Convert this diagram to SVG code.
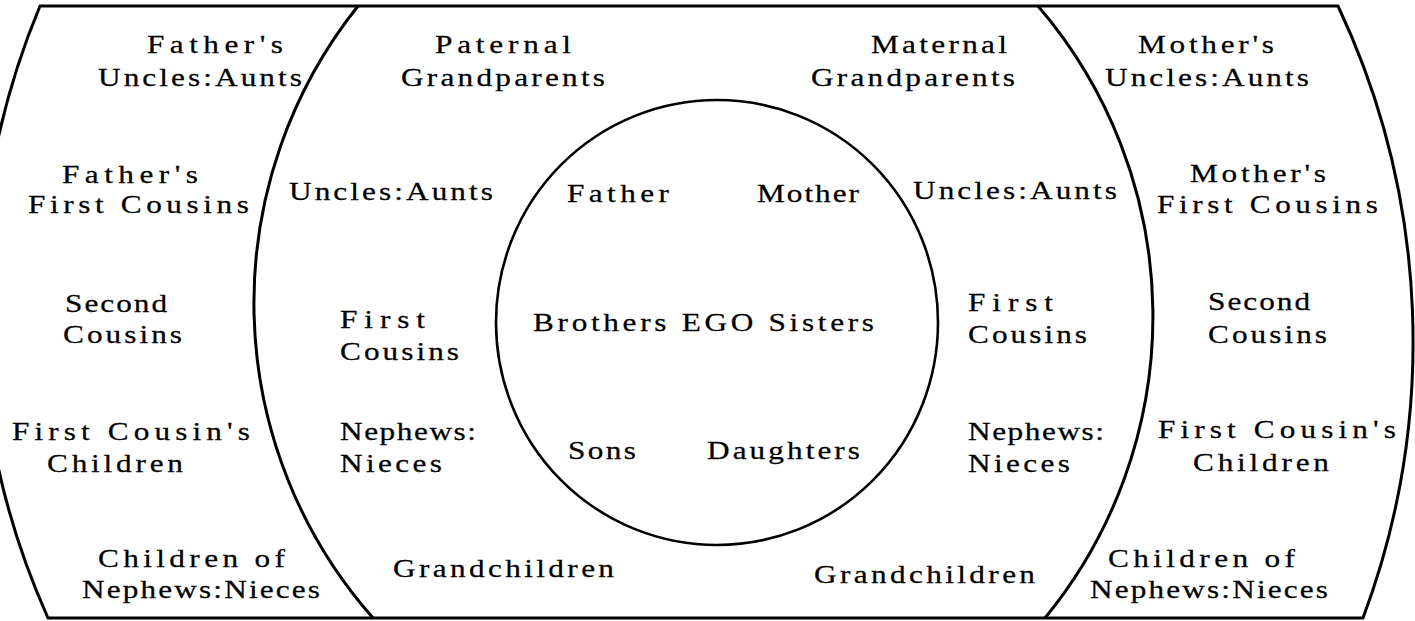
<svg xmlns="http://www.w3.org/2000/svg" width="1415" height="621" viewBox="0 0 1415 621">
<style>
  .ln { fill: none; stroke: #000; stroke-width: 3; stroke-linejoin: round; }
  .c { fill: none; stroke: #000; stroke-width: 2.6; }
  text { font-family: "Liberation Serif", "Times New Roman", serif; font-size: 25px; fill: #000; stroke: #000; stroke-width: 0.25; }
</style>
<rect width="1415" height="621" fill="#fff"/>
<g id="shapes">
  <path id="outer-outline" class="ln" d="M40,6 L1338,6 A788,788 0 0 1 1363,618 L48,618 A771,771 0 0 1 40,6 Z"/>
  <path id="left-inner-arc" class="ln" d="M358,6 A476,476 0 0 0 373,618"/>
  <path id="right-inner-arc" class="ln" d="M1038,6 A476,476 0 0 1 1045,618"/>
  <ellipse id="ego-circle" class="c" cx="717" cy="322.5" rx="221" ry="222.5"/>
</g>
<g id="connectors"></g>
<g id="left-outer">
  <g id="fathers-uncles-aunts"><text transform="translate(147 53) scale(1.25 1)" textLength="108.8" lengthAdjust="spacing">Father's</text><text transform="translate(98 86) scale(1.25 1)" textLength="163.2" lengthAdjust="spacing">Uncles:Aunts</text></g>
  <g id="fathers-first-cousins"><text transform="translate(62 183) scale(1.25 1)" textLength="108.8" lengthAdjust="spacing">Father's</text><text transform="translate(28 213) scale(1.25 1)" textLength="176.8" lengthAdjust="spacing">First Cousins</text></g>
  <g id="second-cousins-left"><text transform="translate(65 312) scale(1.25 1)" textLength="81.6" lengthAdjust="spacing">Second</text><text transform="translate(63 343) scale(1.25 1)" textLength="95.2" lengthAdjust="spacing">Cousins</text></g>
  <g id="first-cousins-children-left"><text transform="translate(12 440) scale(1.25 1)" textLength="190.4" lengthAdjust="spacing">First Cousin's</text><text transform="translate(47 472) scale(1.25 1)" textLength="108.8" lengthAdjust="spacing">Children</text></g>
  <g id="children-of-nephews-left"><text transform="translate(98 567) scale(1.25 1)" textLength="149.6" lengthAdjust="spacing">Children of</text><text transform="translate(82 598) scale(1.25 1)" textLength="190.4" lengthAdjust="spacing">Nephews:Nieces</text></g>
</g>
<g id="middle-left">
  <g id="paternal-grandparents"><text transform="translate(435 53) scale(1.25 1)" textLength="108.8" lengthAdjust="spacing">Paternal</text><text transform="translate(401 86) scale(1.25 1)" textLength="163.2" lengthAdjust="spacing">Grandparents</text></g>
  <g id="uncles-aunts-left"><text transform="translate(289 200) scale(1.25 1)" textLength="163.2" lengthAdjust="spacing">Uncles:Aunts</text></g>
  <g id="first-cousins-left"><text transform="translate(340 328) scale(1.25 1)" textLength="68" lengthAdjust="spacing">First</text><text transform="translate(340 360) scale(1.25 1)" textLength="95.2" lengthAdjust="spacing">Cousins</text></g>
  <g id="nephews-nieces-left"><text transform="translate(340 440) scale(1.25 1)" textLength="108.8" lengthAdjust="spacing">Nephews:</text><text transform="translate(340 472) scale(1.25 1)" textLength="81.6" lengthAdjust="spacing">Nieces</text></g>
  <g id="grandchildren-left"><text transform="translate(393 577) scale(1.25 1)" textLength="176.8" lengthAdjust="spacing">Grandchildren</text></g>
</g>
<g id="ego-circle-labels">
  <g id="father"><text transform="translate(567 202) scale(1.25 1)" textLength="81.6" lengthAdjust="spacing">Father</text></g>
  <g id="mother"><text transform="translate(757 202) scale(1.25 1)" textLength="81.6" lengthAdjust="spacing">Mother</text></g>
  <g id="ego"><text transform="translate(533 331) scale(1.25 1)" textLength="272.8" lengthAdjust="spacing">Brothers EGO Sisters</text></g>
  <g id="sons"><text transform="translate(568 459) scale(1.25 1)" textLength="54.4" lengthAdjust="spacing">Sons</text></g>
  <g id="daughters"><text transform="translate(707 459) scale(1.25 1)" textLength="122.4" lengthAdjust="spacing">Daughters</text></g>
</g>
<g id="middle-right">
  <g id="maternal-grandparents"><text transform="translate(871 53) scale(1.25 1)" textLength="108.8" lengthAdjust="spacing">Maternal</text><text transform="translate(811 86) scale(1.25 1)" textLength="163.2" lengthAdjust="spacing">Grandparents</text></g>
  <g id="uncles-aunts-right"><text transform="translate(913 199) scale(1.25 1)" textLength="163.2" lengthAdjust="spacing">Uncles:Aunts</text></g>
  <g id="first-cousins-right"><text transform="translate(968 311) scale(1.25 1)" textLength="68" lengthAdjust="spacing">First</text><text transform="translate(968 343) scale(1.25 1)" textLength="95.2" lengthAdjust="spacing">Cousins</text></g>
  <g id="nephews-nieces-right"><text transform="translate(968 440) scale(1.25 1)" textLength="108.8" lengthAdjust="spacing">Nephews:</text><text transform="translate(968 472) scale(1.25 1)" textLength="81.6" lengthAdjust="spacing">Nieces</text></g>
  <g id="grandchildren-right"><text transform="translate(814 583) scale(1.25 1)" textLength="176.8" lengthAdjust="spacing">Grandchildren</text></g>
</g>
<g id="right-outer">
  <g id="mothers-uncles-aunts"><text transform="translate(1138 53) scale(1.25 1)" textLength="108.8" lengthAdjust="spacing">Mother's</text><text transform="translate(1105 86) scale(1.25 1)" textLength="163.2" lengthAdjust="spacing">Uncles:Aunts</text></g>
  <g id="mothers-first-cousins"><text transform="translate(1190 182) scale(1.25 1)" textLength="108.8" lengthAdjust="spacing">Mother's</text><text transform="translate(1157 213) scale(1.25 1)" textLength="176.8" lengthAdjust="spacing">First Cousins</text></g>
  <g id="second-cousins-right"><text transform="translate(1208 310) scale(1.25 1)" textLength="81.6" lengthAdjust="spacing">Second</text><text transform="translate(1208 343) scale(1.25 1)" textLength="95.2" lengthAdjust="spacing">Cousins</text></g>
  <g id="first-cousins-children-right"><text transform="translate(1158 438) scale(1.25 1)" textLength="190.4" lengthAdjust="spacing">First Cousin's</text><text transform="translate(1193 471) scale(1.25 1)" textLength="108.8" lengthAdjust="spacing">Children</text></g>
  <g id="children-of-nephews-right"><text transform="translate(1108 567) scale(1.25 1)" textLength="149.6" lengthAdjust="spacing">Children of</text><text transform="translate(1090 598) scale(1.25 1)" textLength="190.4" lengthAdjust="spacing">Nephews:Nieces</text></g>
</g>
</svg>
